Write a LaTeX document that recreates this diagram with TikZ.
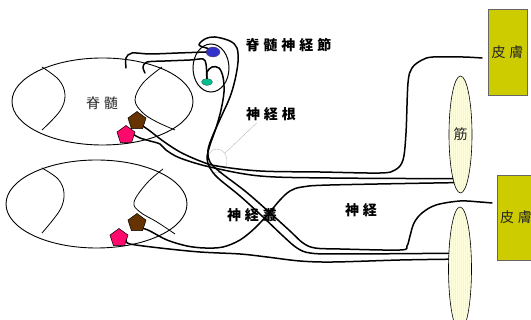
\documentclass[tikz,border=0pt]{standalone}
\usepackage{fontspec}
\newfontfamily\jpfont{Noto Sans CJK JP}
\usepackage{tikz}
\usetikzlibrary{shapes.geometric, positioning}
\definecolor{somablue}{HTML}{3333CC}
\definecolor{somateal}{HTML}{00BF8F}
\definecolor{motorbrown}{HTML}{663300}
\definecolor{motorpink}{HTML}{FF0A6C}
\definecolor{skinolive}{HTML}{CCCC00}
\definecolor{musclebase}{HTML}{FFFFDD}
\definecolor{musclestripe}{HTML}{FFFF88}
\newcommand\jsp{\kern4pt}% gap between the kanji of a label

\tikzset{
    nerve/.style = {line width=1.5pt, line cap=round, line join=round}, % axons, drawn as free hand curves
    cord/.style = {line width=0.9pt}, % outline of one cord segment
    horn/.style = {line width=0.8pt}, % grey matter border
    cell/.style = {regular polygon, regular polygon sides=5, draw, line width=0.5pt, inner sep=0pt, minimum size=19pt}, % motor neuron body
    soma/.style = {ellipse, inner sep=0pt, draw=black!70, line width=0.3pt}, % sensory neuron body
    tag/.style = {font=\jpfont\bfseries\fontsize{14pt}{16pt}\selectfont, inner sep=0pt},
    note/.style = {font=\jpfont\fontsize{14pt}{16pt}\selectfont, inner sep=0pt, text=black!85}
}

\begin{document}
\begin{tikzpicture}
    [x=1pt, y=-1pt,
    muscle/.style={ellipse, draw, line width=0.6pt, fill=musclebase, minimum width=23pt, inner sep=0pt, note,
        path picture={\foreach \k in {-13,-11,...,13}
            \draw[musclestripe, line width=1pt] ([xshift=\k pt]path picture bounding box.north) -- ([xshift=\k pt]path picture bounding box.south);}},
    skin/.style={rectangle, draw=black!60, line width=0.6pt, fill=skinolive, minimum width=39pt, minimum height=86pt, note},
    pointer/.style={draw=gray!55, line width=0.4pt}]
\useasboundingbox (0,0) rectangle (531,320);

% two cord segments with their grey matter
\draw[cord] (102.5,101.5) ellipse [x radius=90.5, y radius=43.5];
\draw[horn] plot[smooth, tension=0.6] coordinates {(42,67) (59,80) (65,95) (60,111) (42,130)};
\draw[horn] plot[smooth, tension=0.6] coordinates {(162,67) (143,83) (135,100) (143,113) (157,122) (175,130)};
\draw[cord] (96.5,204) ellipse [x radius=90.5, y radius=44];
\draw[horn] plot[smooth, tension=0.6] coordinates {(42,168) (58,179) (64,193) (60,210) (42,233)};
\draw[horn] plot[smooth, tension=0.6] coordinates {(163,169) (147,183) (134,202) (140,212) (157,222) (175,234)};
\node[note] (cordU) at (102,103) {脊\jsp 髄};

% dorsal root ganglion
\draw[line width=1pt] (211,68) ellipse [x radius=18, y radius=24];
\node[soma, fill=somablue, minimum width=14pt, minimum height=10pt] (senU1) at (213,52) {};
\node[soma, fill=somateal, minimum width=11pt, minimum height=7pt] (senU2) at (207,82) {};

% motor neurons
\node[cell, fill=motorbrown] (motU1) at (137,121) {};
\node[cell, fill=motorpink] (motU2) at (126,135) {};
\node[cell, fill=motorbrown] (motL1) at (137,223) {};
\node[cell, fill=motorpink] (motL2) at (119,238) {};

% targets
\node[muscle, minimum height=117pt] (musU) at (460.5,134.5) {筋};
\node[muscle, minimum height=124pt] (musL) at (460,269) {};
\node[skin] (skinU) at (507.5,52) {皮\jsp 膚};
\node[skin, minimum width=38pt, minimum height=85pt] (skinL) at (516,217.5) {皮\jsp 膚};
\coordinate (tipU) at (482,58);
\coordinate (tipL) at (492,203);
\coordinate (dhU1) at (126,68);
\coordinate (dhU2) at (145,73);

% labels
\node[tag] (lblGanglion) at (288.5,45) {脊\jsp 髄\jsp 神\jsp 経\jsp 節};
\node[tag] (lblRoot) at (271,114) {神\jsp 経\jsp 根};
\node[tag] (lblPlexus) at (252,215) {神\jsp 経\jsp 叢};
\node[tag] (lblNerve) at (361,210) {神\jsp 経};
\node[pointer, ellipse, minimum width=20pt, minimum height=24pt, inner sep=0pt] (rootMark) at (217,161) {};
\draw[pointer] (rootMark.45) -- ([xshift=11pt, yshift=-2pt]lblRoot.south west);

% dorsal roots into the upper segment
\draw[nerve] plot[smooth, tension=0.5] coordinates {(dhU1) (126,58) (132,53) (150,54) (178,53) (senU1.west)};
\draw[nerve] plot[smooth, tension=0.5] coordinates {(dhU2) (143,67) (147,62) (165,61) (190,60) (203,59) (206,64) (senU2.north)};

% sensory fibres out of the ganglion
\draw[nerve] plot[smooth, tension=0.55] coordinates {(senU1.north west) (199,45) (205,39) (215,37) (230,41) (237,48) (238,62) (235,80) (230,97) (222,115) (213,135) (208,150) (210,162) (220,172) (245,191) (268,211) (290,231) (303,243) (315,248) (340,249) (400,250) (407,246) (410,236) (414,223) (422,213) (436,205) (460,201) (480,202) (tipL)};
\draw[nerve] plot[smooth, tension=0.55] coordinates {(senU2.north) (207,72) (212,67) (219,68) (223,77) (224,92) (221,110) (216,128) (210,145) (207,158) (210,168) (218,178) (240,196) (262,216) (283,236) (297,248) (310,253) (340,254) (musL.126)};

% motor fibres
\draw[nerve] plot[smooth, tension=0.55] coordinates {(motU1.-40) (150,131) (163,141) (180,152) (200,161) (217,166) (260,171) (320,172) (380,173) (395,170) (403,160) (406,133) (408,83) (412,68) (422,60) (433,57) (463,57) (tipU)};
\draw[nerve] plot[smooth, tension=0.55] coordinates {(motU2.east) (140,138) (150,141) (160,144) (166,150) (180,158) (210,167) (260,176) (330,178) (musU.260)};
\draw[nerve] plot[smooth, tension=0.55] coordinates {(motL1.-40) (150,231) (167,240) (187,246) (205,248) (223,247) (240,240) (255,228) (269,213) (280,200) (290,191) (302,187) (330,185) (musU.262)};
\draw[nerve] plot[smooth, tension=0.55] coordinates {(motL2.-20) (130,244) (160,248) (200,252) (240,254) (267,257) (300,261) (333,262) (400,260) (musL.140)};
\end{tikzpicture}
\end{document}
